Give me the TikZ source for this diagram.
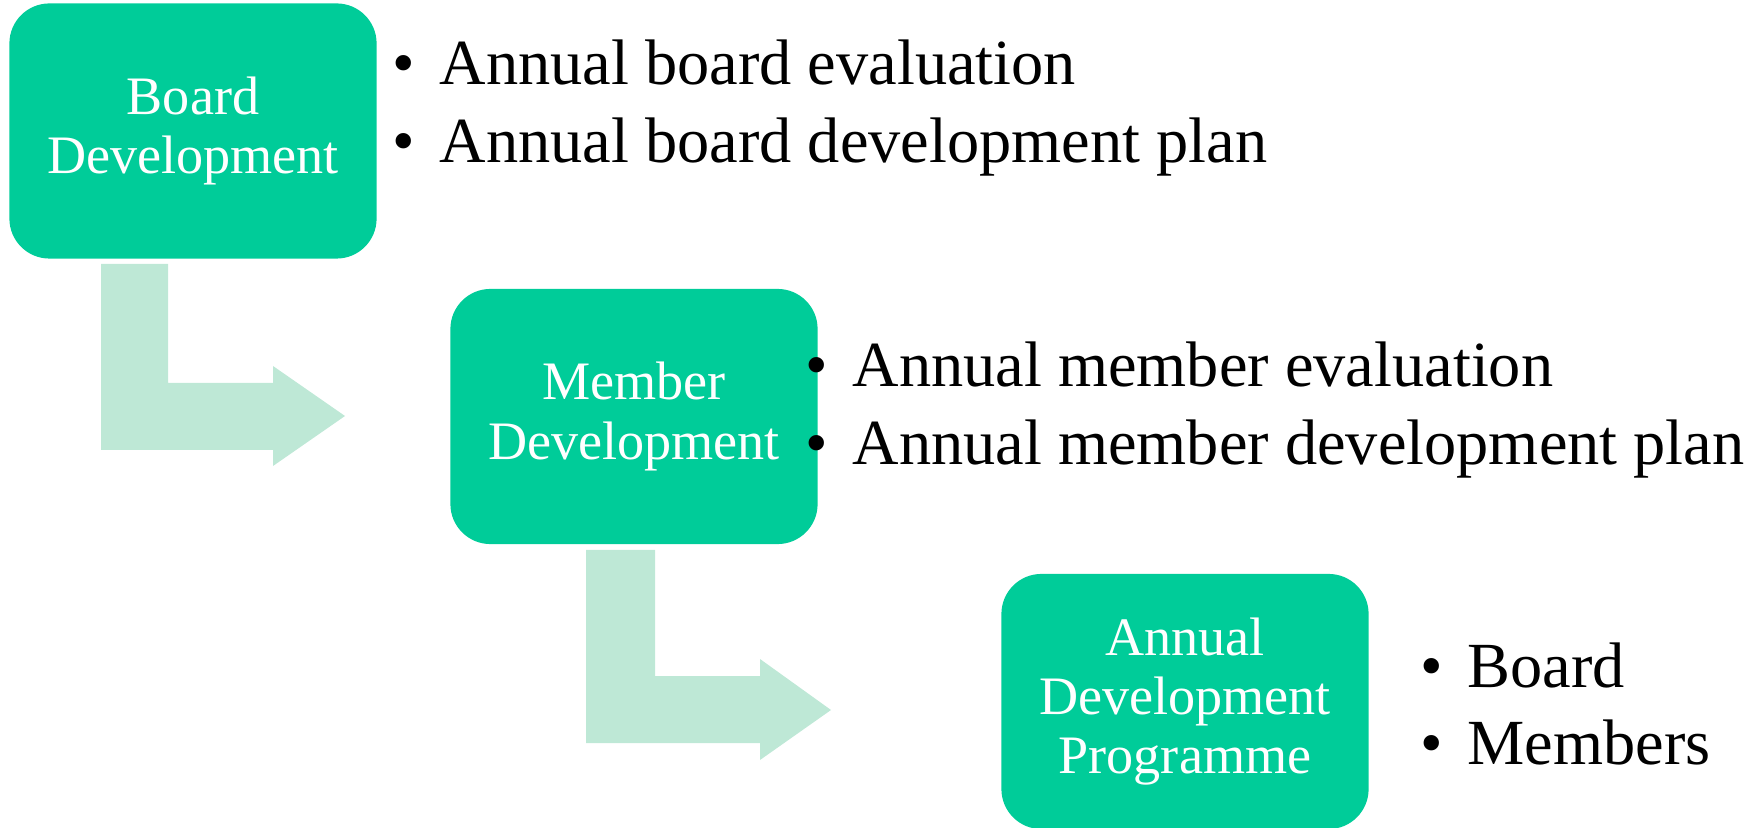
\documentclass[tikz,border=0pt]{standalone}
\usepackage{fontspec}
\setmainfont{Liberation Serif}
\definecolor{boxgreen}{RGB}{0,204,153}
\definecolor{arrowgreen}{RGB}{190,232,214}
\newcommand{\itm}{\makebox[0.47cm][l]{\textbullet}}

\begin{document}
\begin{tikzpicture}[x=0.01cm,y=-0.01cm,
  devbox/.style={fill=boxgreen,rounded corners=0.4cm,minimum width=3.67cm,minimum height=2.55cm,
    align=center,text=white,inner sep=0pt,font=\fontsize{15.4}{16.8}\selectfont},
  points/.style={anchor=base west,inner sep=0pt,font=\fontsize{18.3}{22}\selectfont}]
\useasboundingbox(0,0)rectangle(1758,828);
%bent arrows
\fill[arrowgreen](101,264)--(168,264)--(168,383)--(273,383)--(273,366)--(345,416)--(273,466)--(273,450)--(101,450)--cycle;
\fill[arrowgreen](586,550)--(655,550)--(655,676)--(760,676)--(760,659)--(831,710)--(760,760)--(760,743)--(586,743)--cycle;
%boxes
\node[devbox](board)at(193,131){Board\\Development};
\node[devbox](member)at(634,416.5){Member\\Development};
\node[devbox](programme)at(1185,701.5){Annual\\Development\\Programme};
%bullet lists
\node[points](boardlist)at(392,85){\begin{tabular}[t]{@{}l@{}}\itm Annual board evaluation\\\itm Annual board development plan\end{tabular}};
\node[points](memberlist)at(805,387){\begin{tabular}[t]{@{}l@{}}\itm Annual member evaluation\\\itm Annual member development plan\end{tabular}};
\node[points](programmelist)at(1420,687){\begin{tabular}[t]{@{}l@{}}\itm Board\\\itm Members\end{tabular}};
\end{tikzpicture}
\end{document}
